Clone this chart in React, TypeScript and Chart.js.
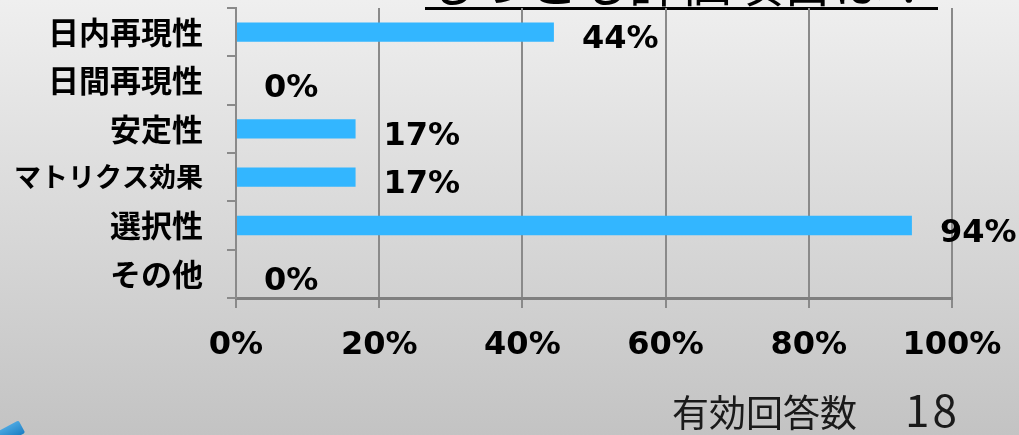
import React, { useEffect, useRef } from "react";
import { Chart, registerables } from "chart.js";

Chart.register(...registerables);

// Survey: which evaluation items were rated most highly (share of respondents, %)
const categories = ["日内再現性", "日間再現性", "安定性", "マトリクス効果", "選択性", "その他"];
const shareValues = [44.4, 0, 16.7, 16.7, 94.4, 0];
const xTickValues = [0, 20, 40, 60, 80, 100];
const respondentCount = 18;

const headingText = "もっとも評価項目は？";
const footnoteLabel = "有効回答数";

const BAR_COLOR = "#33b6ff";
const AXIS_GRAY = "#8a8a8a";
const NUM_FONT = "'DejaVu Sans', Verdana, sans-serif";
const JP_FONT = "'Noto Sans CJK JP', 'Noto Sans', sans-serif";

// Writes the percentage just past the end of each bar
const barValueLabels = {
  id: "barValueLabels",
  afterDatasetsDraw(chart: any) {
    const { ctx } = chart;
    const meta = chart.getDatasetMeta(0);
    ctx.save();
    ctx.font = `bold 32px ${NUM_FONT}`;
    ctx.fillStyle = "#000";
    ctx.textAlign = "left";
    ctx.textBaseline = "middle";
    meta.data.forEach((bar: any, i: number) => {
      const { x, y } = bar.getProps(["x", "y"], true);
      ctx.fillText(`${Math.round(shareValues[i])}%`, x + 28, y + 8);
    });
    ctx.restore();
  },
};

export default function App() {
  const canvasRef = useRef<HTMLCanvasElement | null>(null);

  useEffect(() => {
    if (!canvasRef.current) return;
    const chart = new Chart(canvasRef.current, {
      type: "bar",
      data: {
        labels: categories,
        datasets: [
          {
            data: shareValues,
            backgroundColor: BAR_COLOR,
            borderWidth: 0,
            categoryPercentage: 1,
            barPercentage: 0.4,
          },
        ],
      },
      plugins: [barValueLabels],
      options: {
        indexAxis: "y",
        animation: false,
        responsive: true,
        maintainAspectRatio: false,
        layout: { padding: { top: 8, right: 67, bottom: 0, left: 0 } },
        plugins: {
          legend: { display: false },
          tooltip: { enabled: false },
          title: { display: false },
        },
        scales: {
          x: {
            type: "linear",
            min: 0,
            max: 100,
            afterBuildTicks: (scale: any) => {
              scale.ticks = xTickValues.map((v) => ({ value: v }));
            },
            afterFit: (scale: any) => {
              scale.height = 137;
              scale.paddingLeft = 0;
              scale.paddingRight = 0;
            },
            grid: {
              color: AXIS_GRAY,
              lineWidth: 2,
              drawOnChartArea: true,
              drawTicks: true,
              tickLength: 10,
            },
            border: { display: true, color: "#7f7f7f", width: 3 },
            ticks: {
              color: "#000",
              font: { family: NUM_FONT, size: 32, weight: "bold" },
              padding: 18,
              maxRotation: 0,
              callback: (v: any) => `${v}%`,
            },
          },
          y: {
            type: "category",
            offset: true,
            afterFit: (scale: any) => {
              scale.width = 236;
              scale.paddingTop = 0;
              scale.paddingBottom = 0;
            },
            grid: {
              offset: true,
              color: AXIS_GRAY,
              lineWidth: 2,
              drawOnChartArea: false,
              drawTicks: true,
              tickLength: 9,
            },
            border: { display: true, color: AXIS_GRAY, width: 2 },
            ticks: {
              autoSkip: false,
              color: "#000",
              font: (c: any) => ({
                family: JP_FONT,
                size: categories[c.index] && categories[c.index].length > 5 ? 27 : 31,
                weight: "bold",
              }),
              padding: 24,
            },
          },
        },
      },
    });
    return () => chart.destroy();
  }, []);

  return (
    <div
      style={{
        position: "fixed",
        left: 0,
        top: 0,
        width: 1019,
        height: 435,
        overflow: "hidden",
        background: "linear-gradient(to bottom, #efefef 0%, #c3c3c3 100%)",
      }}
    >
      {/* heading, mostly above the visible area */}
      <div
        style={{
          position: "absolute",
          left: 425,
          top: -45,
          fontFamily: JP_FONT,
          fontSize: 51,
          lineHeight: "51px",
          color: "#000",
          whiteSpace: "nowrap",
        }}
      >
        {headingText}
      </div>
      <div
        style={{
          position: "absolute",
          left: 425,
          top: 7,
          width: 513,
          height: 3,
          background: "#000",
        }}
      />
      {/* small logo corner */}
      <div
        style={{
          position: "absolute",
          left: -12,
          top: 428,
          width: 36,
          height: 14,
          background: "linear-gradient(to bottom, #4aa6e0, #1d7fc4)",
          transform: "rotate(-28deg)",
          borderRadius: 2,
        }}
      />
      <div style={{ position: "absolute", left: 0, top: 0, width: 1019, height: 435 }}>
        <canvas ref={canvasRef} />
      </div>
      <div
        style={{
          position: "absolute",
          left: 672,
          top: 384,
          fontFamily: JP_FONT,
          fontSize: 37,
          lineHeight: "48px",
          color: "#1a1a1a",
          whiteSpace: "nowrap",
        }}
      >
        {footnoteLabel}
        <span style={{ marginLeft: 48, fontSize: 44, letterSpacing: 3 }}>{respondentCount}</span>
      </div>
    </div>
  );
}
